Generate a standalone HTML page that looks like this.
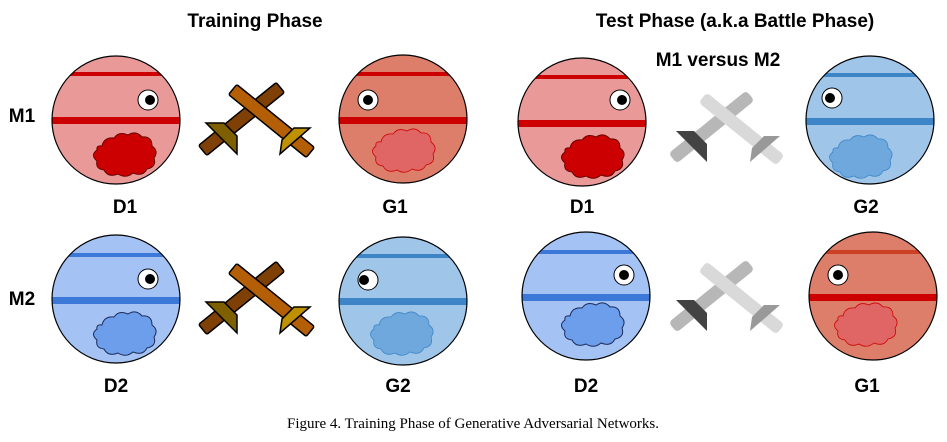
<!DOCTYPE html>
<html><head><meta charset="utf-8"><style>
body{margin:0;background:#fff;width:947px;height:442px;overflow:hidden}
svg{display:block}
.t{font-family:"Liberation Sans",Arial,sans-serif;font-weight:bold;font-size:19px;fill:#000;text-anchor:middle}
.c{font-family:"Liberation Serif",serif;font-size:15px;fill:#000;text-anchor:middle}
</style></head><body>
<svg width="947" height="442" viewBox="0 0 947 442" xmlns="http://www.w3.org/2000/svg">
<defs>
<clipPath id="cp"><circle r="64"/></clipPath>
<path id="cloud" d="M-22,-12 q2,-9 12,-8 q5,-7 14,-3 q8,-5 14,2 q10,-1 10,9 q7,5 2,12 q3,9 -7,11 q-4,8 -14,4 q-7,6 -15,1 q-10,4 -14,-4 q-9,-1 -7,-9 q-7,-6 0,-11 q-1,-5 5,-4z"/>
<g id="swb">
<rect x="-50" y="-6.5" width="100" height="13" rx="2" transform="translate(241.5,119) rotate(-39)" fill="#7f4006" stroke="#000" stroke-width="1.5"/>
<polygon points="206,123 224,123 237,136 237,154" fill="#7f6000" stroke="#000" stroke-width="1.5"/>
<rect x="-50" y="-6.5" width="100" height="13" rx="2" transform="translate(271.5,121) rotate(39)" fill="#b45f06" stroke="#000" stroke-width="1.5"/>
<polygon points="280,154 282,140 294,128 310,128" fill="#bf9000" stroke="#000" stroke-width="1.5"/>
</g>
<g id="swg">
<rect x="-50" y="-6.5" width="100" height="13" rx="4" transform="translate(241.5,119) rotate(-39)" fill="#b7b7b7"/>
<polygon points="206,123 224,123 237,136 237,154" fill="#434343"/>
<rect x="-50" y="-6.5" width="100" height="13" rx="4" transform="translate(271.5,121) rotate(39)" fill="#d9d9d9"/>
<polygon points="280,154 282,140 294,128 310,128" fill="#999999"/>
</g>
</defs>

<text class="t" x="255" y="27">Training Phase</text>
<text class="t" x="735" y="27">Test Phase (a.k.a Battle Phase)</text>
<text class="t" x="718" y="66">M1 versus M2</text>
<text class="t" x="22" y="122">M1</text>
<text class="t" x="22" y="305">M2</text>

<g transform="translate(116,120)">
<circle r="64" fill="#ea9999"/>
<g clip-path="url(#cp)"><rect x="-70" y="-48" width="140" height="4" fill="#cc0000"/><rect x="-70" y="-3" width="140" height="7" fill="#cc0000"/></g>
<circle r="64" fill="none" stroke="#000" stroke-width="1.2"/>
<circle cx="32" cy="-20" r="10" fill="#fff" stroke="#000"/><circle cx="34" cy="-20" r="5" fill="#000"/>
<use href="#cloud" x="8" y="38" fill="#cc0000" stroke="#660000" stroke-width="1"/>
</g>
<g transform="translate(403,119)">
<circle r="64" fill="#dd7e6b"/>
<g clip-path="url(#cp)"><rect x="-70" y="-47" width="140" height="4" fill="#cc0000"/><rect x="-70" y="-2" width="140" height="7" fill="#cc0000"/></g>
<circle r="64" fill="none" stroke="#000" stroke-width="1.2"/>
<circle cx="-35" cy="-19" r="10" fill="#fff" stroke="#000"/><circle cx="-35" cy="-19" r="5" fill="#000"/>
<use href="#cloud" x="0" y="35" fill="#e06666" stroke="#cc0000" stroke-width="0.8"/>
</g>
<g transform="translate(116,299)">
<circle r="64" fill="#a4c2f4"/>
<g clip-path="url(#cp)"><rect x="-70" y="-46" width="140" height="4" fill="#3c78d8"/><rect x="-70" y="-2" width="140" height="7" fill="#3c78d8"/></g>
<circle r="64" fill="none" stroke="#000" stroke-width="1.2"/>
<circle cx="32" cy="-20" r="10" fill="#fff" stroke="#000"/><circle cx="34" cy="-20" r="5" fill="#000"/>
<use href="#cloud" x="8" y="38" fill="#6d9eeb" stroke="#1c2a57" stroke-width="1"/>
</g>
<g transform="translate(403,301)">
<circle r="64" fill="#9fc5e8"/>
<g clip-path="url(#cp)"><rect x="-70" y="-47" width="140" height="4" fill="#3d85c6"/><rect x="-70" y="-3" width="140" height="7" fill="#3d85c6"/></g>
<circle r="64" fill="none" stroke="#000" stroke-width="1.2"/>
<circle cx="-35" cy="-21" r="10" fill="#fff" stroke="#000"/><circle cx="-39" cy="-21" r="5" fill="#000"/>
<use href="#cloud" x="-2" y="36" fill="#6fa8dc" stroke="#3d85c6" stroke-width="0.8"/>
</g>

<g transform="translate(582,122)">
<circle r="64" fill="#ea9999"/>
<g clip-path="url(#cp)"><rect x="-70" y="-47" width="140" height="4" fill="#cc0000"/><rect x="-70" y="-2" width="140" height="7" fill="#cc0000"/></g>
<circle r="64" fill="none" stroke="#000" stroke-width="1.2"/>
<circle cx="38" cy="-22" r="10" fill="#fff" stroke="#000"/><circle cx="40" cy="-22" r="5" fill="#000"/>
<use href="#cloud" x="10" y="38" fill="#cc0000" stroke="#660000" stroke-width="1"/>
</g>
<g transform="translate(870,120)">
<circle r="64" fill="#9fc5e8"/>
<g clip-path="url(#cp)"><rect x="-70" y="-47" width="140" height="4" fill="#3d85c6"/><rect x="-70" y="-2" width="140" height="7" fill="#3d85c6"/></g>
<circle r="64" fill="none" stroke="#000" stroke-width="1.2"/>
<circle cx="-38" cy="-22" r="10" fill="#fff" stroke="#000"/><circle cx="-40" cy="-22" r="5" fill="#000"/>
<use href="#cloud" x="-10" y="40" fill="#6fa8dc" stroke="#3d85c6" stroke-width="0.8"/>
</g>
<g transform="translate(586,296)">
<circle r="64" fill="#a4c2f4"/>
<g clip-path="url(#cp)"><rect x="-70" y="-46" width="140" height="4" fill="#3c78d8"/><rect x="-70" y="-2" width="140" height="7" fill="#3c78d8"/></g>
<circle r="64" fill="none" stroke="#000" stroke-width="1.2"/>
<circle cx="38" cy="-21" r="10" fill="#fff" stroke="#000"/><circle cx="38" cy="-21" r="5" fill="#000"/>
<use href="#cloud" x="6" y="32" fill="#6d9eeb" stroke="#1c2a57" stroke-width="1"/>
</g>
<g transform="translate(873,296)">
<circle r="64" fill="#dd7e6b"/>
<g clip-path="url(#cp)"><rect x="-70" y="-46" width="140" height="4" fill="#cc4125"/><rect x="-70" y="-2" width="140" height="7" fill="#cc0000"/></g>
<circle r="64" fill="none" stroke="#000" stroke-width="1.2"/>
<circle cx="-35" cy="-21" r="10" fill="#fff" stroke="#000"/><circle cx="-35" cy="-21" r="5" fill="#000"/>
<use href="#cloud" x="-8" y="32" fill="#e06666" stroke="#cc0000" stroke-width="0.8"/>
</g>

<use href="#swb"/>
<use href="#swb" y="179"/>
<use href="#swg" x="470" y="8"/>
<use href="#swg" x="470" y="177"/>

<text class="t" x="125" y="213">D1</text>
<text class="t" x="395" y="213">G1</text>
<text class="t" x="116" y="392">D2</text>
<text class="t" x="398" y="392">G2</text>
<text class="t" x="582" y="213">D1</text>
<text class="t" x="866" y="213">G2</text>
<text class="t" x="586" y="392">D2</text>
<text class="t" x="867" y="392">G1</text>

<text class="c" x="473" y="428">Figure 4. Training Phase of Generative Adversarial Networks.</text>
</svg>
</body></html>
